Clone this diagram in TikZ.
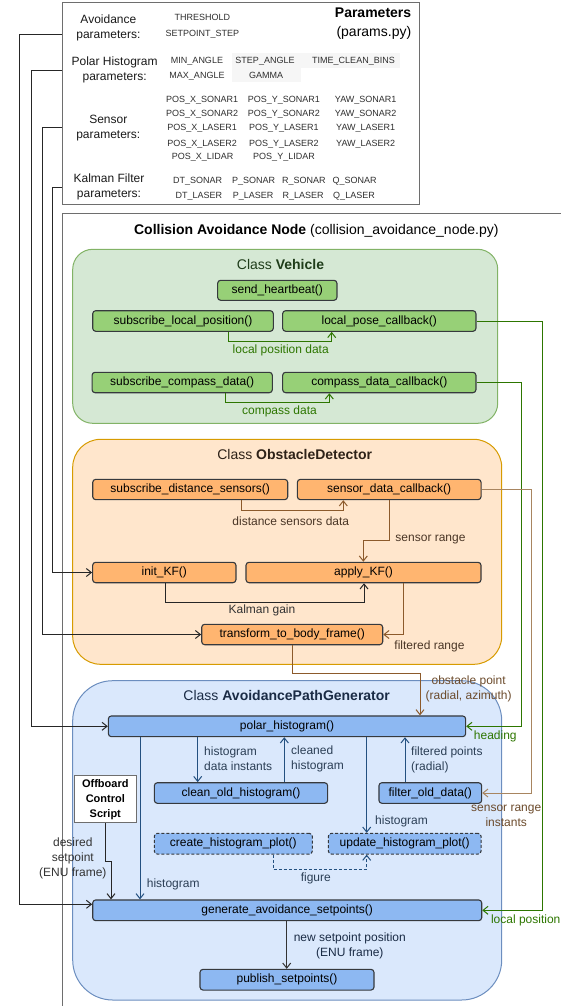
\documentclass[tikz,border=0pt]{standalone}
\usepackage{fontspec}
\setmainfont{Liberation Sans}
\usetikzlibrary{arrows.meta}
\definecolor{vehbg}{HTML}{D5E8D4}
\definecolor{vehln}{HTML}{82B366}
\definecolor{gmeth}{HTML}{97D077}
\definecolor{gconn}{HTML}{2D7600}
\definecolor{gtitle}{HTML}{1F3D1A}
\definecolor{obsbg}{HTML}{FFE6CC}
\definecolor{obsln}{HTML}{D79B00}
\definecolor{ometh}{HTML}{FFB570}
\definecolor{bconn}{HTML}{8C5A2B}
\definecolor{blight}{HTML}{A88560}
\definecolor{blabel}{HTML}{4A3626}
\definecolor{bptlbl}{HTML}{6B4A2B}
\definecolor{otitle}{HTML}{2E2218}
\definecolor{apgbg}{HTML}{DAE8FC}
\definecolor{apgln}{HTML}{6C8EBF}
\definecolor{bmeth}{HTML}{8DB8F2}
\definecolor{uconn}{HTML}{235080}
\definecolor{ulabel}{HTML}{2B3E55}
\definecolor{utitle}{HTML}{1A2B45}
\definecolor{boxln}{HTML}{36393D}
\definecolor{frameln}{HTML}{6E6E6E}
\definecolor{pvcol}{HTML}{2E2E2E}
\definecolor{pbg}{HTML}{F6F6F6}
\tikzset{
 mbox/.style={draw=boxln, line width=1.1pt, rounded corners=3pt, inner sep=0pt, font=\fontsize{12}{14}\selectfont},
 gm/.style={mbox, fill=gmeth},
 om/.style={mbox, fill=ometh},
 bm/.style={mbox, fill=bmeth},
 dm/.style={mbox, fill=bmeth, dash pattern=on 3pt off 2pt},
 lbl/.style={font=\fontsize{12}{15}\selectfont, inner sep=0pt, align=center},
 lbll/.style={font=\fontsize{12}{15}\selectfont, inner sep=0pt, align=left, anchor=west},
 pv/.style={font=\fontsize{9}{11}\selectfont, text=pvcol, inner sep=0pt, text height=6.5pt, text depth=0pt},
 pl/.style={font=\fontsize{12}{15}\selectfont, align=center, inner sep=0pt, text=black!90},
 ttl/.style={font=\fontsize{14}{16}\selectfont, inner sep=0pt},
 cls/.style={line width=1pt, inner sep=0pt},
 arr/.style={line width=1pt, -{Straight Barb[length=5pt,width=8pt]}},
}
\begin{document}
\begin{tikzpicture}[x=1pt,y=-1pt]
\path[use as bounding box] (0,0) rectangle (561,1006);

% ---------- Parameters box ----------
\node[draw=frameln, line width=1pt, minimum width=357.4pt, minimum height=202.3pt, inner sep=0pt] (pbox) at (241,103.2) {};
\fill[pbg] (232,53.3) rectangle (300.5,81.7);
\fill[pbg] (300.5,53.3) rectangle (400,68);
\node[ttl, align=right, anchor=east, font=\fontsize{14}{18.7}\selectfont] (ptitle) at (411.4,23.3) {\textbf{Parameters}\\(params.py)};

\node[pl] (lav) at (108.4,28.3) {Avoidance\\parameters:};
\node[pl] (lph) at (114.6,70.3) {Polar Histogram\\parameters:};
\node[pl] (lsp) at (108.3,128.3) {Sensor\\parameters:};
\node[pl] (lkf) at (109,186.7) {Kalman Filter\\parameters:};

\node[pv] (v1) at (202.4,17.3) {THRESHOLD};
\node[pv] (v2) at (202.4,33.3) {SETPOINT\_STEP};
\node[pv] (v3) at (197,60.3) {MIN\_ANGLE};
\node[pv] (v4) at (197,75.3) {MAX\_ANGLE};
\node[pv] (v5) at (265,60.3) {STEP\_ANGLE};
\node[pv] (v6) at (266,75.3) {GAMMA};
\node[pv] (v7) at (353.5,60.3) {TIME\_CLEAN\_BINS};

\node[pv] (s11) at (202.1,99) {POS\_X\_SONAR1};
\node[pv] (s12) at (202.1,113.3) {POS\_X\_SONAR2};
\node[pv] (s13) at (202.1,127.7) {POS\_X\_LASER1};
\node[pv] (s14) at (202.1,143) {POS\_X\_LASER2};
\node[pv] (s15) at (202.7,156.7) {POS\_X\_LIDAR};
\node[pv] (s21) at (283.9,99) {POS\_Y\_SONAR1};
\node[pv] (s22) at (283.9,113.3) {POS\_Y\_SONAR2};
\node[pv] (s23) at (283.9,127.7) {POS\_Y\_LASER1};
\node[pv] (s24) at (283.9,143) {POS\_Y\_LASER2};
\node[pv] (s25) at (284,156.7) {POS\_Y\_LIDAR};
\node[pv] (s31) at (365.7,99) {YAW\_SONAR1};
\node[pv] (s32) at (365.7,113.3) {YAW\_SONAR2};
\node[pv] (s33) at (365.7,127.7) {YAW\_LASER1};
\node[pv] (s34) at (365.7,143) {YAW\_LASER2};

\node[pv] (k11) at (197.7,180.3) {DT\_SONAR};
\node[pv] (k12) at (253.7,180.3) {P\_SONAR};
\node[pv] (k13) at (303.8,180.3) {R\_SONAR};
\node[pv] (k14) at (354.7,180.3) {Q\_SONAR};
\node[pv] (k21) at (198.9,195) {DT\_LASER};
\node[pv] (k22) at (253.1,195) {P\_LASER};
\node[pv] (k23) at (303.2,195) {R\_LASER};
\node[pv] (k24) at (354,195) {Q\_LASER};

% ---------- Collision Avoidance Node frame ----------
\draw[frameln, line width=1pt] (62.3,1006) -- (62.3,213.3) -- (561,213.3);
\node[ttl] (cantitle) at (316.3,231) {\textbf{Collision Avoidance Node} (collision\_avoidance\_node.py)};

% ---------- Class containers ----------
\node[cls, draw=vehln, fill=vehbg, rounded corners=20pt, minimum width=425pt, minimum height=174pt] (veh) at (285.2,336.3) {};
\node[cls, draw=obsln, fill=obsbg, rounded corners=28pt, minimum width=429pt, minimum height=225pt] (obs) at (287.2,551.8) {};
\node[cls, draw=apgln, fill=apgbg, rounded corners=40pt, minimum width=429pt, minimum height=319.3pt] (apg) at (287.2,840.35) {};

\node[ttl, text=gtitle] (vt) at (280.5,264.5) {Class \textbf{Vehicle}};
\node[ttl, text=otitle] (ot) at (294.7,454) {Class \textbf{ObstacleDetector}};
\node[ttl, text=utitle] (at) at (286.7,695.7) {Class \textbf{AvoidancePathGenerator}};

% ---------- Vehicle methods ----------
\node[gm, minimum width=119.3pt, minimum height=20pt] (hb) at (277.3,290.3) {send\_heartbeat()};
\node[gm, minimum width=180.6pt, minimum height=20.6pt] (slp) at (183,321) {subscribe\_local\_position()};
\node[gm, minimum width=193.3pt, minimum height=20.6pt] (lpc) at (379.3,321) {local\_pose\_callback()};
\node[gm, minimum width=180.3pt, minimum height=20.4pt] (scd) at (182.2,382.5) {subscribe\_compass\_data()};
\node[gm, minimum width=193.3pt, minimum height=20.4pt] (cdc) at (379.3,382.5) {compass\_data\_callback()};

% ---------- ObstacleDetector methods ----------
\node[om, minimum width=195pt, minimum height=20.3pt] (sds) at (190.2,489.5) {subscribe\_distance\_sensors()};
\node[om, minimum width=183.7pt, minimum height=20.3pt] (sdc) at (389.2,489.5) {sensor\_data\_callback()};
\node[om, minimum width=143.3pt, minimum height=20.4pt] (ikf) at (164.3,572.5) {init\_KF()};
\node[om, minimum width=235pt, minimum height=20.4pt] (akf) at (363.5,572.5) {apply\_KF()};
\node[om, minimum width=181pt, minimum height=20.4pt] (tbf) at (292.2,634.5) {transform\_to\_body\_frame()};

% ---------- AvoidancePathGenerator methods ----------
\node[bm, minimum width=357.3pt, minimum height=20.7pt] (ph) at (287,726.3) {polar\_histogram()};
\node[bm, minimum width=173.3pt, minimum height=20.6pt] (coh) at (241,793) {clean\_old\_histogram()};
\node[bm, minimum width=102.7pt, minimum height=20.6pt] (fod) at (430.3,793) {filter\_old\_data()};
\node[dm, minimum width=158pt, minimum height=20.7pt] (chp) at (233.3,843.7) {create\_histogram\_plot()};
\node[dm, minimum width=152.7pt, minimum height=20.7pt] (uhp) at (404.7,843.7) {update\_histogram\_plot()};
\node[bm, minimum width=389pt, minimum height=20.7pt] (gas) at (287.2,910.3) {generate\_avoidance\_setpoints()};
\node[bm, minimum width=174pt, minimum height=20.7pt] (ps) at (287,979.7) {publish\_setpoints()};

\node[draw=frameln, fill=white, line width=1pt, minimum width=62pt, minimum height=47pt, inner sep=0pt, align=center, font=\fontsize{11}{15}\selectfont\bfseries] (ob) at (105.3,799.2) {Offboard\\Control\\Script};

% ---------- Labels ----------
\node[lbl, text=gconn] (l1) at (280.7,350) {local position data};
\node[lbl, text=gconn] (l2) at (279.5,411.3) {compass data};
\node[lbl, text=blabel] (l3) at (290.8,521.7) {distance sensors data};
\node[lbl, text=blabel] (l4) at (430.5,539.3) {sensor range};
\node[lbl, text=black!80] (l5) at (262,610) {Kalman gain};
\node[lbl, text=blabel] (l6) at (429.5,646.7) {filtered range};
\node[lbl, text=bptlbl] (l7) at (468.6,688.5) {obstacle point\\(radial, azimuth)};
\node[lbl, text=gconn] (l8) at (495.3,736.7) {heading};
\node[lbl, text=bptlbl] (l9) at (506.2,816.2) {sensor range\\instants};
\node[lbl, text=gconn] (l10) at (525.7,920.7) {local position};
\node[lbll, text=ulabel] (l11) at (204,759.2) {histogram\\data instants};
\node[lbll, text=ulabel] (l12) at (291,759.2) {cleaned\\histogram};
\node[lbll, text=ulabel] (l13) at (411,759.5) {filtered points\\(radial)};
\node[lbll, text=ulabel] (l14) at (375,821) {histogram};
\node[lbll, text=ulabel] (l15) at (146.7,884.3) {histogram};
\node[lbl, text=ulabel] (l16) at (315.8,878.3) {figure};
\node[lbl, text=utitle] (l17) at (349.8,945.5) {new setpoint position\\(ENU frame)};
\node[lbl, text=black!80] (l18) at (72.8,858) {desired\\setpoint\\(ENU frame)};

% ---------- Connectors: parameters to methods ----------
\draw[arr, black!85] (pbox.west |- 0,34.3) -- (19,34.3) |- (gas.west |- 0,904.3);
\draw[arr, black!85] (pbox.west |- 0,70.3) -- (31.7,70.3) |- (ph.west);
\draw[arr, black!85] (pbox.west |- 0,127.7) -- (42.3,127.7) |- (tbf.west);
\draw[arr, black!85] (pbox.west |- 0,187.7) -- (52.7,187.7) |- (ikf.west);

% ---------- Vehicle connectors ----------
\draw[arr, gconn] (slp.south -| 228.3,0) |- (331.7,341.7) -- (lpc.south -| 331.7,0);
\draw[arr, gconn] (scd.south -| 225.7,0) |- (329.3,402.7) -- (cdc.south -| 329.3,0);
\draw[arr, gconn] (lpc.east) -| (542.3,910.3) -- (gas.east);
\draw[arr, gconn] (cdc.east) -| (521.7,726.3) -- (ph.east);

% ---------- ObstacleDetector connectors ----------
\draw[arr, bconn] (sds.south -| 241.7,0) |- (343.3,510) -- (sdc.south -| 343.3,0);
\draw[arr, bconn] (sdc.south -| 389.3,0) -- (389.3,540) -- (363.3,540) -- (akf.north -| 363.3,0);
\draw[arr, black!85] (ikf.south -| 165,0) |- (364,602.7) -- (akf.south -| 364,0);
\draw[arr, bconn] (akf.south -| 403.3,0) |- (tbf.east);
\draw[arr, bconn] (tbf.south) |- (420,673.3) -- (ph.north -| 420,0);
\draw[arr, blight] (sdc.east) -| (531.7,793) -- (fod.east);

% ---------- AvoidancePathGenerator connectors ----------
\draw[arr, uconn] (ph.south -| 197.7,0) -- (coh.north -| 197.7,0);
\draw[arr, uconn] (coh.north -| 284.3,0) -- (ph.south -| 284.3,0);
\draw[arr, uconn] (fod.north -| 405,0) -- (ph.south -| 405,0);
\draw[arr, uconn] (ph.south -| 366.7,0) -- (uhp.north -| 366.7,0);
\draw[arr, uconn] (ph.south -| 140,0) -- (gas.north -| 140,0);
\draw[arr, uconn, dash pattern=on 3pt off 2pt] (chp.south -| 273.3,0) |- (366.7,869.3) -- (uhp.south -| 366.7,0);
\draw[arr, black!85] (ob.south) |- (111,861.7) -- (gas.north -| 111,0);
\draw[arr, black!80] (gas.south -| 286.7,0) -- (ps.north -| 286.7,0);
\end{tikzpicture}
\end{document}
